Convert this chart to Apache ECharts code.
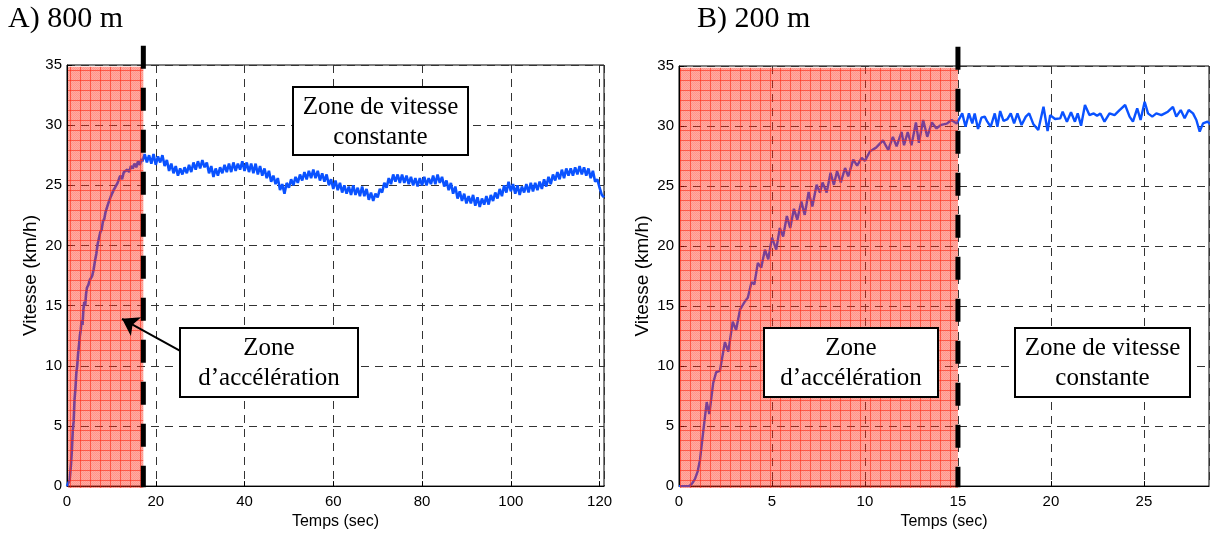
<!DOCTYPE html>
<html><head><meta charset="utf-8">
<script src="https://cdn.jsdelivr.net/npm/echarts@6/dist/echarts.min.js"></script>
<style>html,body{margin:0;padding:0;background:#fff}#c{width:1210px;height:535px}</style>
</head><body><div id="c"></div>
<script>
// ---------- DATA ----------
const titleA = 'A) 800 m';
const titleB = 'B) 200 m';
const xTitle = 'Temps (sec)';
const yTitle = 'Vitesse (km/h)';
const zoneAccelText = 'Zone\nd\u2019accélération';
const zoneConstText = 'Zone de vitesse\nconstante';

const xMaxA = 121, xStepA = 20;
const xMaxB = 28.5, xStepB = 5;
const yMax = 35, yStep = 5;
const zoneEndA = 17.2;   // end of acceleration zone (s), 800 m
const zoneEndB = 15;     // end of acceleration zone (s), 200 m

// 800 m : acceleration phase [t, v]
const accelA = [[0,0],[0.3,0.1],[0.6,0.5],[0.9,1.8],[1.1,3.0],[1.3,4.6],[1.5,5.4],[1.7,7.2],[1.9,8.1],[2.1,9.4],
[2.3,10.0],[2.5,11.0],[2.7,11.7],[2.9,12.5],[3.1,13.0],[3.3,13.8],[3.5,13.4],[3.7,14.7],[3.9,15.3],[4.1,15.0],
[4.3,16.0],[4.5,16.5],[4.8,16.7],[5.1,17.1],[5.4,17.2],[5.7,17.5],[6.0,18.0],[6.3,18.7],[6.6,19.3],[6.9,20.1],
[7.2,20.2],[7.5,21.1],[7.8,21.3],[8.1,22.0],[8.4,22.2],[8.7,22.8],[9.0,22.9],[9.3,23.5],[9.6,23.4],[9.9,24.1],
[10.2,24.0],[10.5,24.6],[10.8,24.5],[11.1,25.0],[11.4,25.2],[11.7,25.5],[12.0,25.8],[12.4,25.5],[12.8,26.1],[13.2,26.0],
[13.6,26.3],[14.0,26.1],[14.4,26.6],[14.8,26.4],[15.2,26.8],[15.6,26.5],[16.0,27.0],[16.4,26.7],[16.8,27.2],[17.0,27.0]];

// 800 m : constant speed phase [t, v]
const cruiseA = [[17.5,27.6],[18.0,26.9],[18.5,27.5],[19.0,26.8],[19.5,27.6],[20.0,26.7],[20.5,27.4],[21.0,26.9],[21.5,27.5],
[22.0,26.6],[22.5,27.1],[23.0,26.2],[23.5,26.8],[24.0,26.0],[24.5,26.6],[25.0,25.8],[25.5,26.4],[26.0,25.9],[26.5,26.5],
[27.0,26.0],[27.5,26.7],[28.0,26.1],[28.5,26.9],[29.0,26.3],[29.5,27.0],[30.0,26.4],[30.5,27.1],[31.0,26.5],[31.5,26.9],
[32.0,26.0],[32.5,26.6],[33.0,25.7],[33.5,26.4],[34.0,25.8],[34.5,26.5],[35.0,26.0],[35.5,26.7],[36.0,26.1],[36.5,26.8],
[37.0,26.1],[37.5,26.9],[38.0,26.2],[38.5,26.8],[39.0,26.3],[39.5,27.0],[40.0,26.2],[40.5,26.9],[41.0,26.1],[41.5,26.8],
[42.0,26.0],[42.5,26.8],[43.0,25.9],[43.5,26.6],[44.0,25.8],[44.5,26.4],[45.0,25.6],[45.5,26.2],[46.0,25.3],[46.5,25.8],
[47.0,25.1],[47.5,25.6],[48.0,24.6],[48.5,25.1],[49.0,24.3],[49.5,25.2],[50.0,24.8],[50.5,25.5],[51.0,25.0],[51.5,25.7],
[52.0,25.2],[52.5,25.9],[53.0,25.4],[53.5,26.1],[54.0,25.5],[54.5,26.2],[55.0,25.6],[55.5,26.3],[56.0,25.6],[56.5,26.2],
[57.0,25.4],[57.5,26.0],[58.0,25.3],[58.5,25.9],[59.0,25.0],[59.5,25.5],[60.0,24.7],[60.5,25.4],[61.0,24.6],[61.5,25.2],
[62.0,24.4],[62.5,25.0],[63.0,24.3],[63.5,24.9],[64.0,24.2],[64.5,25.0],[65.0,24.2],[65.5,24.8],[66.0,24.1],[66.5,24.9],
[67.0,24.1],[67.5,24.7],[68.0,23.8],[68.5,24.4],[69.0,23.7],[69.5,24.3],[70.0,24.0],[70.5,24.7],[71.0,24.4],[71.5,25.2],
[72.0,24.8],[72.5,25.6],[73.0,25.1],[73.5,25.9],[74.0,25.3],[74.5,25.9],[75.0,25.2],[75.5,25.9],[76.0,25.2],[76.5,25.8],
[77.0,25.1],[77.5,25.7],[78.0,25.0],[78.5,25.6],[79.0,24.9],[79.5,25.6],[80.0,25.0],[80.5,25.7],[81.0,25.0],[81.5,25.6],
[82.0,25.1],[82.5,25.8],[83.0,25.1],[83.5,25.9],[84.0,25.2],[84.5,25.7],[85.0,24.9],[85.5,25.4],[86.0,24.6],[86.5,25.2],
[87.0,24.3],[87.5,24.9],[88.0,23.9],[88.5,24.5],[89.0,23.7],[89.5,24.3],[90.0,23.5],[90.5,24.1],[91.0,23.5],[91.5,24.2],
[92.0,23.3],[92.5,24.0],[93.0,23.2],[93.5,23.9],[94.0,23.4],[94.5,24.1],[95.0,23.4],[95.5,24.2],[96.0,23.7],[96.5,24.4],
[97.0,23.9],[97.5,24.7],[98.0,24.1],[98.5,25.0],[99.0,24.4],[99.5,25.3],[100.0,24.5],[100.5,25.1],[101.0,24.3],[101.5,25.0],
[102.0,24.2],[102.5,24.9],[103.0,24.4],[103.5,25.1],[104.0,24.4],[104.5,25.2],[105.0,24.5],[105.5,25.2],[106.0,24.6],[106.5,25.3],
[107.0,24.7],[107.5,25.5],[108.0,24.9],[108.5,25.7],[109.0,25.1],[109.5,25.9],[110.0,25.4],[110.5,26.1],[111.0,25.5],[111.5,26.3],
[112.0,25.6],[112.5,26.4],[113.0,25.8],[113.5,26.4],[114.0,25.8],[114.5,26.5],[115.0,25.9],[115.5,26.6],[116.0,25.9],[116.5,26.5],
[117.0,25.8],[117.5,26.4],[118.0,25.6],[118.5,26.2],[119.0,25.3],[119.5,25.5],[120.0,24.8],[120.5,24.2],[121.0,24.0]];

// 200 m : acceleration phase [t, v]
const accelB = [[0,0],[0.3,0],[0.55,0],[0.7,0.2],[0.86,0.6],[1.0,1.2],[1.13,2.2],[1.3,4.5],[1.49,7.0],[1.63,6.0],
[1.84,8.6],[2.0,9.5],[2.2,9.6],[2.47,12.0],[2.65,11.2],[2.89,13.7],[3.07,13.0],[3.28,14.7],[3.55,15.4],[3.7,15.7],
[3.9,17.0],[4.05,16.8],[4.24,18.6],[4.42,18.2],[4.62,19.7],[4.8,18.9],[5.0,20.7],[5.23,19.7],[5.42,21.5],[5.6,20.8],
[5.8,22.5],[5.98,21.5],[6.18,23.1],[6.36,22.2],[6.58,23.7],[6.76,22.6],[6.97,24.5],[7.17,23.3],[7.4,25.1],[7.58,24.45],
[7.72,25.3],[7.94,24.45],[8.15,26.1],[8.33,25.1],[8.5,26.25],[8.7,25.3],[8.93,26.5],[9.1,25.8],[9.37,27.2],[9.58,26.7],
[9.82,27.35],[10.0,27.1],[10.27,27.9],[10.6,28.2],[10.97,28.8],[11.25,28.0],[11.5,29.1],[11.7,28.3],[11.97,29.5],[12.1,28.4],
[12.3,29.5],[12.5,28.4],[12.74,30.3],[12.9,28.6],[13.13,30.5],[13.35,29.1],[13.6,30.3],[13.85,29.8],[14.1,30.1],[14.4,30.2],
[14.66,30.5],[14.93,30.2]];

// 200 m : constant speed phase [t, v]
const cruiseB = [[15.23,31.05],[15.41,29.94],[15.59,31.05],[15.77,30.22],[15.9,31.05],[16.08,29.75],[16.26,30.69],[16.44,30.78],
[16.58,30.36],[16.76,29.94],[16.98,31.05],[17.12,29.94],[17.27,31.25],[17.45,30.42],[17.66,30.58],[17.84,31.05],[18.02,30.22],
[18.2,31.05],[18.42,30.08],[18.65,30.78],[18.83,31.05],[19.06,30.14],[19.32,29.67],[19.6,31.6],[19.82,29.58],[19.96,30.91],
[20.22,30.58],[20.5,30.64],[20.63,31.19],[20.86,30.36],[21.08,31.14],[21.29,30.36],[21.44,31.05],[21.62,30.03],[21.83,31.75],
[22.07,30.91],[22.3,31.05],[22.48,30.85],[22.66,31.05],[22.88,30.36],[23.15,31.05],[23.42,30.91],[23.69,31.33],[23.99,31.75],
[24.23,30.78],[24.41,30.36],[24.64,31.47],[24.82,30.5],[25.04,32.02],[25.22,31.05],[25.45,30.78],[25.67,31.05],[25.94,30.91],
[26.12,31.05],[26.29,31.19],[26.56,31.6],[26.74,30.78],[26.98,31.33],[27.19,30.64],[27.41,31.33],[27.64,31.05],[27.82,30.5],
[28.0,29.53],[28.18,30.22],[28.42,30.36],[28.63,30.08]];

// arrow (800 m): from label box to acceleration zone, in data units [t, v]
const arrowA = [[25.4, 11.25], [12.4, 13.9]];

// ---------- STYLE ----------
const SANS = '"Liberation Sans", Arial, Helvetica, sans-serif';
const SERIF = '"Liberation Serif", "Times New Roman", serif';
const BLUE = '#0a52ff';

// hatched red pattern for the acceleration zone
const tile = document.createElement('canvas');
tile.width = 10; tile.height = 10;
const g = tile.getContext('2d');
for (let i = 0; i < 10; i++) for (let j = 0; j < 10; j++) {
  g.fillStyle = ((i + j) % 2) ? 'rgba(255,44,22,0.40)' : 'rgba(255,44,22,0.50)';
  g.fillRect(i, j, 1, 1);
}
g.fillStyle = 'rgba(255,40,20,0.6)';
g.fillRect(0, 0, 10, 1);
g.fillRect(0, 0, 1, 10);
const hatch = { image: tile, repeat: 'repeat' };

const chart = echarts.init(document.getElementById('c'), null, { renderer: 'canvas' });

function xAxisCfg(gi, max, step) {
  return {
    gridIndex: gi, type: 'value', min: 0, max: max, interval: step,
    axisLine: { lineStyle: { color: '#000', width: 1 } },
    axisTick: { inside: true, length: 5, lineStyle: { color: '#000' } },
    axisLabel: { color: '#000', fontSize: 15, fontFamily: SANS, margin: 8, showMaxLabel: false,
      formatter: v => (Math.abs(v / step - Math.round(v / step)) < 1e-9 ? String(v) : '') },
    splitLine: { show: true, lineStyle: { color: '#333', width: 1, type: [8, 6] } },
    name: xTitle, nameLocation: 'middle', nameGap: 24,
    nameTextStyle: { color: '#000', fontSize: 16, fontFamily: SANS }
  };
}
function yAxisCfg(gi) {
  return {
    gridIndex: gi, type: 'value', min: 0, max: yMax, interval: yStep,
    axisLine: { lineStyle: { color: '#000', width: 1 } },
    axisTick: { inside: true, length: 5, lineStyle: { color: '#000' } },
    axisLabel: { color: '#000', fontSize: 15, fontFamily: SANS, margin: 5 },
    splitLine: { show: true, lineStyle: { color: '#333', width: 1, type: [8, 6] } },
    name: yTitle, nameLocation: 'middle', nameGap: 27,
    nameTextStyle: { color: '#000', fontSize: 19, fontFamily: SANS }
  };
}
function zoneSeries(i, xEnd) {
  return {
    type: 'custom', xAxisIndex: i, yAxisIndex: i, z: 5, silent: true, clip: false,
    encode: { x: [0, 1] },
    data: [[0, xEnd]],
    renderItem: (params, api) => {
      const p0 = api.coord([api.value(0), yMax * 0.996]);
      const p1 = api.coord([api.value(1), 0]);
      return { type: 'rect', shape: { x: p0[0] + 1, y: p0[1], width: p1[0] - p0[0] - 1, height: p1[1] - p0[1] + 2 },
        style: { fill: hatch } };
    }
  };
}
function lineSeries(i, data, w) {
  return { type: 'line', xAxisIndex: i, yAxisIndex: i, data: data, showSymbol: false, symbol: 'none',
    z: 3, silent: true, lineStyle: { color: BLUE, width: w } };
}
function sepSeries(i, xEnd, extra) {
  return Object.assign({ type: 'line', xAxisIndex: i, yAxisIndex: i, clip: false, z: 6, silent: true,
    showSymbol: false, symbol: 'none', color: '#000',
    data: [[xEnd, yMax * 1.046], [xEnd, -0.1]],
    lineStyle: { color: '#000', width: 5, type: [23, 19] } }, extra || {});
}
function box(x, y, w, h, txt) {
  return { type: 'group', x: x, y: y, z: 100, children: [
    { type: 'rect', z: 100, shape: { x: 0, y: 0, width: w, height: h },
      style: { fill: '#fff', stroke: '#000', lineWidth: 2 } },
    { type: 'text', z: 101, x: w / 2, y: h / 2 + 1,
      style: { text: txt, fill: '#000', fontSize: 25, fontFamily: SERIF, align: 'center', verticalAlign: 'middle', lineHeight: 30 } }
  ]};
}

chart.setOption({
  animation: false,
  backgroundColor: '#fff',
  title: [
    { text: titleA, left: 8, top: 4, padding: 0, textStyle: { fontFamily: SERIF, fontSize: 30, fontWeight: 'normal', color: '#000' } },
    { text: titleB, left: 697, top: 4, padding: 0, textStyle: { fontFamily: SERIF, fontSize: 30, fontWeight: 'normal', color: '#000' } }
  ],
  grid: [
    { left: 67, top: 65, width: 537, height: 423, show: true, borderColor: '#000', borderWidth: 1, backgroundColor: 'transparent' },
    { left: 679, top: 66, width: 530, height: 421, show: true, borderColor: '#000', borderWidth: 1, backgroundColor: 'transparent' }
  ],
  xAxis: [ xAxisCfg(0, xMaxA, xStepA), xAxisCfg(1, xMaxB, xStepB) ],
  yAxis: [ yAxisCfg(0), yAxisCfg(1) ],
  series: [
    lineSeries(0, accelA.concat(cruiseA), 2.6),
    zoneSeries(0, zoneEndA),
    sepSeries(0, zoneEndA, {
      markLine: { silent: true, z: 20, symbol: ['none', 'arrow'], symbolSize: 16,
        itemStyle: { color: '#000', opacity: 1 },
        lineStyle: { color: '#000', width: 2, type: 'solid', opacity: 1 }, label: { show: false },
        emphasis: { disabled: true },
        data: [[{ coord: arrowA[0], itemStyle: { color: '#000' } }, { coord: arrowA[1], itemStyle: { color: '#000' } }]] }
    }),
    lineSeries(1, accelB.concat(cruiseB), 2.4),
    zoneSeries(1, zoneEndB),
    sepSeries(1, zoneEndB)
  ],
  graphic: [
    box(293, 87, 175, 68, zoneConstText),
    box(180, 328, 178, 69, zoneAccelText),
    box(764, 328, 174, 69, zoneAccelText),
    box(1015, 328, 175, 69, zoneConstText)
  ]
});
</script>
</body></html>
